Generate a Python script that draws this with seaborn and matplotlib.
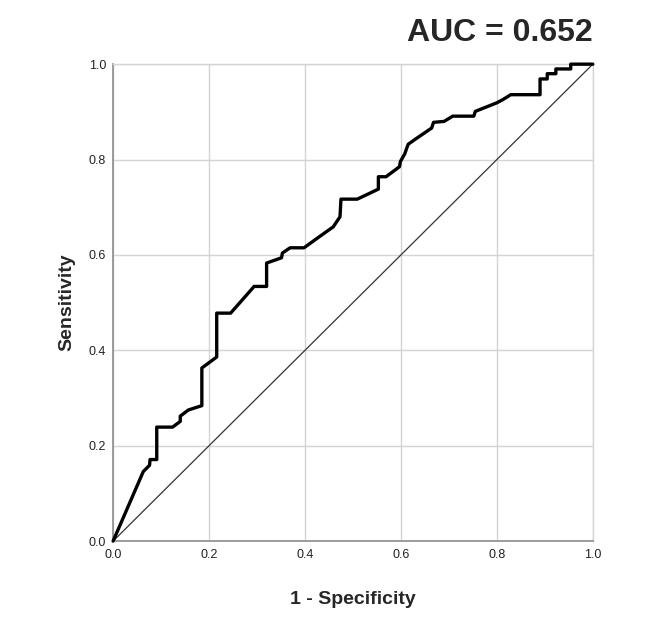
import matplotlib
matplotlib.use("Agg")
import matplotlib.pyplot as plt
import seaborn as sns
import pandas as pd

# ROC curve points
fpr = [0.000, 0.063, 0.076, 0.077, 0.091, 0.091, 0.124, 0.140, 0.140, 0.157,
       0.185, 0.185, 0.216, 0.216, 0.245, 0.294, 0.320, 0.320, 0.351, 0.353,
       0.369, 0.398, 0.431, 0.459, 0.473, 0.475, 0.509, 0.553, 0.553, 0.569,
       0.597, 0.599, 0.608, 0.615, 0.629, 0.664, 0.668, 0.690, 0.708, 0.752,
       0.755, 0.785, 0.800, 0.813, 0.829, 0.890, 0.890, 0.905, 0.905, 0.923,
       0.923, 0.954, 0.954, 1.000]
tpr = [0.000, 0.146, 0.159, 0.171, 0.171, 0.239, 0.239, 0.251, 0.262, 0.275,
       0.284, 0.363, 0.386, 0.478, 0.478, 0.534, 0.534, 0.583, 0.594, 0.604,
       0.615, 0.615, 0.639, 0.659, 0.680, 0.717, 0.717, 0.738, 0.764, 0.764,
       0.785, 0.796, 0.812, 0.832, 0.842, 0.866, 0.878, 0.880, 0.891, 0.891,
       0.901, 0.913, 0.919, 0.926, 0.936, 0.936, 0.969, 0.969, 0.980, 0.980,
       0.990, 0.990, 1.000, 1.000]
ref_line = [0.0, 1.0]
ticks = [0.0, 0.2, 0.4, 0.6, 0.8, 1.0]
auc_text = "AUC = 0.652"

sns.set_style("white")
plt.rcParams['font.family'] = ['Liberation Sans', 'DejaVu Sans']

fig = plt.figure(figsize=(6.5, 6.17), dpi=100)
ax = fig.add_axes([0.174, 0.123, 0.738, 0.773])

roc = pd.DataFrame({"fpr": fpr, "tpr": tpr})
diag = pd.DataFrame({"x": ref_line, "y": ref_line})

sns.lineplot(data=diag, x="x", y="y", ax=ax, color="#333333", linewidth=0.9,
             sort=False, estimator=None)
sns.lineplot(data=roc, x="fpr", y="tpr", ax=ax, color="black", linewidth=2.4,
             sort=False, estimator=None, clip_on=False, zorder=4)

ax.set_xlim(0, 1)
ax.set_ylim(0, 1)
ax.set_xticks(ticks)
ax.set_yticks(ticks)
ax.set_xticklabels([f"{t:.1f}" for t in ticks])
ax.set_yticklabels([f"{t:.1f}" for t in ticks])
ax.tick_params(axis="x", length=0, labelsize=9, colors="#222222", pad=6)
ax.tick_params(axis="y", length=0, labelsize=9, colors="#222222", pad=5)
ax.grid(True, color="#d4d4d4", linewidth=1.0)
ax.set_axisbelow(True)

for side in ["top", "right"]:
    ax.spines[side].set_color("#d4d4d4")
    ax.spines[side].set_linewidth(1.0)
for side in ["left", "bottom"]:
    ax.spines[side].set_color("#8c8c8c")
    ax.spines[side].set_linewidth(1.2)

ax.set_xlabel("1 - Specificity", fontsize=14, fontweight="bold", labelpad=21)
ax.set_ylabel("Sensitivity", fontsize=14, fontweight="bold", labelpad=10)

fig.text(0.912, 0.947, auc_text, ha="right", va="center", fontsize=23,
         fontweight="bold")

fig.savefig("out.png", dpi=100)
